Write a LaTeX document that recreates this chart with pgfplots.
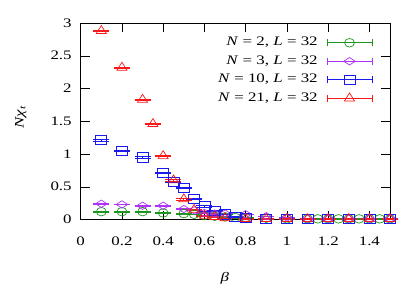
\documentclass[border=0pt]{standalone}
\usepackage{fontspec}
\setmainfont{Liberation Serif}[FakeStretch=1.3]
\usepackage{pgfplots}
\pgfplotsset{compat=1.18}
\definecolor{cgreen}{RGB}{30,150,30}
\definecolor{cpurple}{RGB}{175,50,250}
\definecolor{cblue}{RGB}{25,25,240}
\definecolor{cred}{RGB}{250,25,25}
\begin{document}
\begin{tikzpicture}
\useasboundingbox (-80.7pt,-73.5pt) rectangle (334.3pt,196.5pt+23pt);
\begin{axis}[
  at={(0pt,0pt)}, anchor=south west,
  scale only axis, width=309.3pt, height=196.5pt,
  xmin=0, xmax=1.5, ymin=0, ymax=3,
  xtick={0,0.2,0.4,0.6,0.8,1,1.2,1.4},
  ytick={0,0.5,1,1.5,2,2.5,3},
  tick align=inside, major tick length=9pt,
  tick style={black, line width=0.5pt},
  axis line style={black, line width=0.7pt},
  /pgf/number format/assume math mode=true,
  ticklabel style={font=\fontsize{13}{15}\selectfont},
  xticklabel style={yshift=-14pt},
  yticklabel style={xshift=-5.5pt},
  xlabel={\textit{β}},
  ylabel={\textit{Nχ}\textsubscript{\textit{t}}},
  every axis x label/.style={at={(axis description cs:0.466,-0.298)}, anchor=center, font=\fontsize{13}{15}\selectfont},
  every axis y label/.style={at={(axis description cs:-0.194,0.52)}, anchor=center, rotate=90, font=\fontsize{13}{15}\selectfont},
  clip=false,
  legend cell align=right, legend plot pos=right,
  legend style={draw=none, fill=none, inner sep=0pt, outer sep=0pt,
    at={(0.943,0.930)}, anchor=north east, row sep=6.5pt, column sep=9pt,
    nodes={inner sep=0pt, text height=9pt, text depth=3pt},
    font=\fontsize{13}{15}\selectfont},
  legend image code/.code={
    \draw[line width=0.7pt,#1,mark=none] (0pt,0pt) -- (45pt,0pt);
    \draw[line width=0.7pt,#1,mark=none] (0pt,-3.5pt) -- (0pt,3.5pt) (45pt,-3.5pt) -- (45pt,3.5pt);
    \draw[#1] plot coordinates {(22.5pt,0pt)};
  },
  every axis plot/.append style={only marks, line width=0.7pt,
    error bars/y dir=both, error bars/y explicit, error bars/error mark=-,
    error bars/error bar style={line width=0.7pt},
    error bars/error mark options={line width=0.7pt, mark size=8pt, rotate=90}},
]
\addplot[cgreen, mark=o, mark size=4.3pt, mark options={xscale=1.15}] table[x=x, y=y, y error=e] {
x y e
0.1 0.12 0.005
0.2 0.12 0.005
0.3 0.12 0.005
0.4 0.10 0.005
0.5 0.09 0.005
0.55 0.08 0.005
0.6 0.06 0.005
0.65 0.05 0.005
0.7 0.04 0.005
0.75 0.03 0.005
0.8 0.03 0.005
0.9 0.02 0.005
1.0 0.01 0.005
1.1 0.01 0.005
1.15 0.01 0.005
1.2 0.01 0.005
1.25 0.01 0.005
1.3 0.01 0.005
1.35 0.01 0.005
1.4 0.01 0.005
1.45 0.01 0.005
1.5 0.01 0.005
};
\addlegendentry{\textit{N} = 2, \textit{L} = 32}
\addplot[cpurple, mark=diamond, mark size=3.7pt, mark options={xscale=2.1}] table[x=x, y=y, y error=e] {
x y e
0.1 0.24 0.005
0.2 0.23 0.005
0.3 0.21 0.005
0.4 0.21 0.005
0.5 0.16 0.005
0.55 0.14 0.005
0.6 0.10 0.005
0.65 0.09 0.005
0.7 0.09 0.005
0.8 0.08 0.005
0.9 0.05 0.005
1.0 0.03 0.005
1.1 0.01 0.005
1.2 0.01 0.005
1.3 0.01 0.005
1.4 0.01 0.005
1.5 0.01 0.005
};
\addlegendentry{\textit{N} = 3, \textit{L} = 32}
\addplot[cblue, mark=square, mark size=4.6pt, mark options={xscale=1.2}] table[x=x, y=y, y error=e] {
x y e
0.1 1.21 0.01
0.2 1.05 0.01
0.3 0.95 0.01
0.4 0.71 0.01
0.45 0.57 0.01
0.5 0.48 0.01
0.55 0.32 0.01
0.6 0.20 0.01
0.65 0.13 0.01
0.7 0.08 0.005
0.75 0.04 0.005
0.8 0.02 0.005
0.9 0.01 0.005
1.0 0.01 0.005
1.1 0.01 0.005
1.2 0.01 0.005
1.3 0.01 0.005
1.4 0.01 0.005
1.5 0.01 0.005
};
\addlegendentry{\textit{N} = 10, \textit{L} = 32}
\addplot[cred, mark=triangle, mark size=5.3pt, mark options={xscale=1.1}] table[x=x, y=y, y error=e] {
x y e
0.1 2.88 0.01
0.2 2.32 0.01
0.3 1.83 0.01
0.35 1.46 0.01
0.4 0.97 0.01
0.45 0.60 0.01
0.5 0.31 0.01
0.55 0.15 0.01
0.6 0.06 0.005
0.65 0.04 0.005
0.7 0.02 0.005
0.8 0.01 0.005
0.9 0.01 0.005
1.0 0.01 0.005
1.1 0.01 0.005
1.2 0.01 0.005
1.3 0.01 0.005
1.4 0.01 0.005
1.5 0.01 0.005
};
\addlegendentry{\textit{N} = 21, \textit{L} = 32}
\end{axis}
\end{tikzpicture}
\end{document}
